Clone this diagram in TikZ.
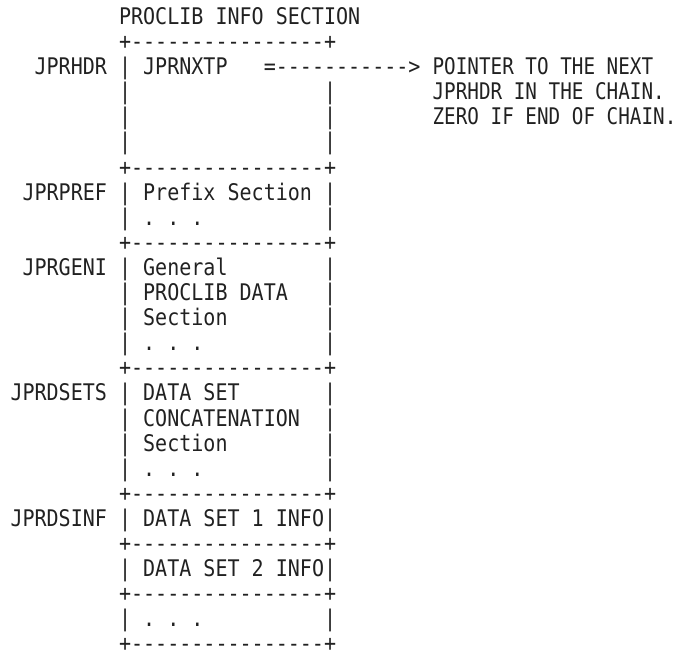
\documentclass[tikz,border=0pt]{standalone}
\usepackage{fontspec}
\newfontfamily\mono[FakeStretch=0.8748,Ligatures=TeXOff]{DejaVu Sans Mono}
\newfontfamily\monor[FakeStretch=0.842,Ligatures=TeXOff]{DejaVu Sans Mono}
\definecolor{ink}{rgb}{0.13,0.13,0.13}
\newcommand\tx[4]{\node[t] (#1) at ({10.5+12.06*#2},{635.5-25.1*(#3-1)}) {#4};}
\newcommand\rx[4]{\node[t,font=\fontsize{22.9}{25}\monor\frenchspacing] (#1) at ({432.6+11.6*(#2-35)},{635.5-25.1*(#3-1)}) {#4};}
\begin{document}
\begin{tikzpicture}[x=1pt,y=1pt,
  t/.style={anchor=base west,inner sep=0pt,outer sep=0pt,text=ink,
            font=\fontsize{22.9}{25}\mono\frenchspacing}]
\useasboundingbox (0,0) rectangle (679,660);
% line 1
\tx{title}{9}{1}{PROCLIB INFO SECTION}
% line 2
\tx{hA}{9}{2}{+----------------+}
% line 3
\tx{lHDR}{2}{3}{JPRHDR}
\tx{vA3}{9}{3}{|}
\tx{nxtp}{11}{3}{JPRNXTP}
\tx{arrow}{21}{3}{=----------->}
\rx{ptrA}{35}{3}{POINTER TO THE NEXT}
% line 4-6
\tx{vA4}{9}{4}{|}\tx{wA4}{26}{4}{|}
\rx{ptrB}{35}{4}{JPRHDR IN THE CHAIN.}
\tx{vA5}{9}{5}{|}\tx{wA5}{26}{5}{|}
\rx{ptrC}{35}{5}{ZERO IF END OF CHAIN.}
\tx{vA6}{9}{6}{|}\tx{wA6}{26}{6}{|}
% line 7
\tx{hB}{9}{7}{+----------------+}
% line 8-9
\tx{lPREF}{1}{8}{JPRPREF}
\tx{vB8}{9}{8}{|}\tx{pref}{11}{8}{Prefix Section}\tx{wB8}{26}{8}{|}
\tx{vB9}{9}{9}{|}\tx{dotsB}{11}{9}{. . .}\tx{wB9}{26}{9}{|}
% line 10
\tx{hC}{9}{10}{+----------------+}
% line 11-14
\tx{lGENI}{1}{11}{JPRGENI}
\tx{vC11}{9}{11}{|}\tx{genA}{11}{11}{General}\tx{wC11}{26}{11}{|}
\tx{vC12}{9}{12}{|}\tx{genB}{11}{12}{PROCLIB DATA}\tx{wC12}{26}{12}{|}
\tx{vC13}{9}{13}{|}\tx{genC}{11}{13}{Section}\tx{wC13}{26}{13}{|}
\tx{vC14}{9}{14}{|}\tx{dotsC}{11}{14}{. . .}\tx{wC14}{26}{14}{|}
% line 15
\tx{hD}{9}{15}{+----------------+}
% line 16-19
\tx{lDSETS}{0}{16}{JPRDSETS}
\tx{vD16}{9}{16}{|}\tx{dsA}{11}{16}{DATA SET}\tx{wD16}{26}{16}{|}
\tx{vD17}{9}{17}{|}\tx{dsB}{11}{17}{CONCATENATION}\tx{wD17}{26}{17}{|}
\tx{vD18}{9}{18}{|}\tx{dsC}{11}{18}{Section}\tx{wD18}{26}{18}{|}
\tx{vD19}{9}{19}{|}\tx{dotsD}{11}{19}{. . .}\tx{wD19}{26}{19}{|}
% line 20
\tx{hE}{9}{20}{+----------------+}
% line 21
\tx{lDSINF}{0}{21}{JPRDSINF}
\tx{vE21}{9}{21}{|}\tx{infA}{11}{21}{DATA SET 1 INFO|}
% line 22
\tx{hF}{9}{22}{+----------------+}
% line 23
\tx{vF23}{9}{23}{|}\tx{infB}{11}{23}{DATA SET 2 INFO|}
% line 24
\tx{hG}{9}{24}{+----------------+}
% line 25
\tx{vG25}{9}{25}{|}\tx{dotsG}{11}{25}{. . .}\tx{wG25}{26}{25}{|}
% line 26
\tx{hH}{9}{26}{+----------------+}
\end{tikzpicture}
\end{document}
